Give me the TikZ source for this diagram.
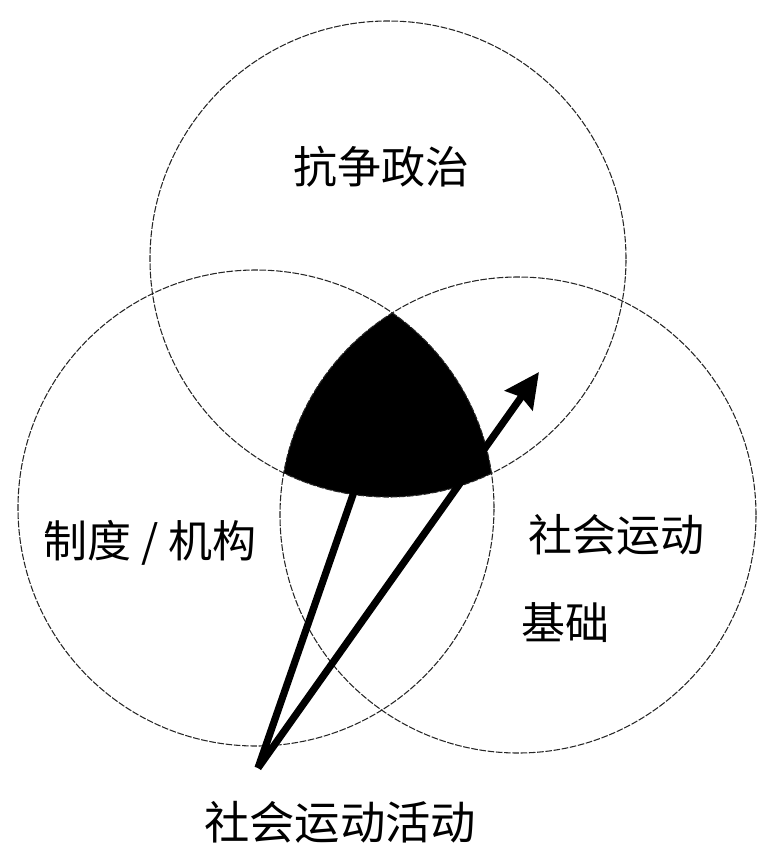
\documentclass[tikz,border=0pt]{standalone}
\usepackage{fontspec}
\newfontfamily\cjk{Noto Sans CJK SC}
\usetikzlibrary{arrows.meta}
\begin{document}
\begin{tikzpicture}[x=0.75pt,y=-0.75pt,
  ring/.style={draw=black!85,line width=0.8pt,dash pattern=on 5pt off 1.2pt},
  lbl/.style={font=\cjk\fontsize{33}{36}\selectfont,inner sep=0pt},
  thickline/.style={line width=5.4pt,line cap=butt}]
\useasboundingbox (0,0) rectangle (757,849);
\coordinate (ct) at (388,259);
\coordinate (cl) at (256,508);
\coordinate (cr) at (518,515);
% shaded triple intersection
\begin{scope}
  \clip (cl) circle[radius=178.5pt];
  \clip (cr) circle[radius=178.5pt];
  \fill[black] (ct) circle[radius=178.5pt];
\end{scope}
\draw[ring] (ct) circle[radius=178.5pt];
\draw[ring] (cl) circle[radius=178.5pt];
\draw[ring] (cr) circle[radius=178.5pt];
% labels
\node[lbl] (top) at (381,167) {抗争政治};
\node[lbl] (left) at (150,543) {制度 / 机构};
\node[lbl] (right) at (616,535) {社会运动};
\node[lbl,anchor=west] (base) at (521,623) {基础};
\node[lbl,font=\cjk\fontsize{34}{36}\selectfont] (bottom) at (340,822) {社会运动活动};
% arrows
\coordinate (src) at (258,768);
\coordinate (end1) at (372,440);
\coordinate (end2) at (539,372);
\draw[thickline] (src) -- (end1);
\draw[thickline,-{Stealth[length=26pt,width=25pt,inset=3pt]}] (src) -- (end2);
\end{tikzpicture}
\end{document}
